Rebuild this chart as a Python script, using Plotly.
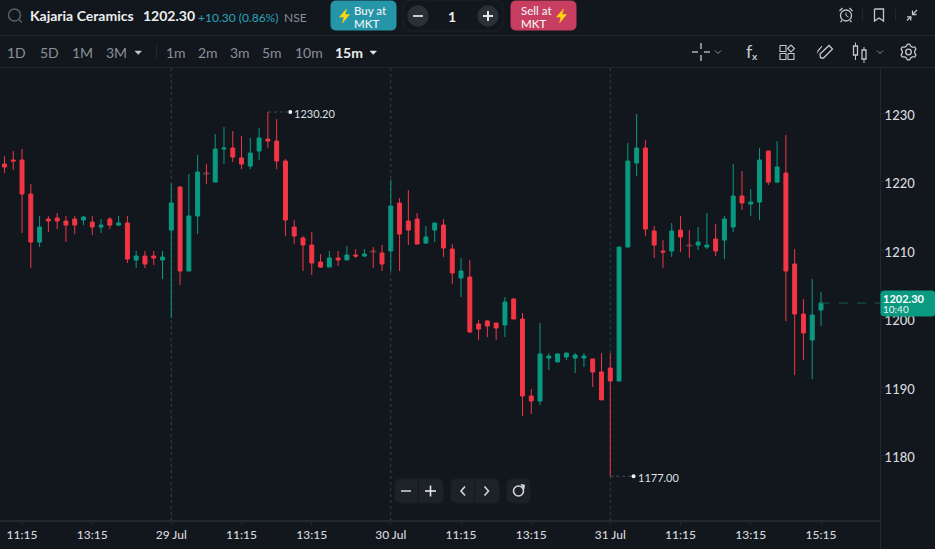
import math
import plotly.graph_objects as go

# Candle data
opens = [1222.60, 1223.19, 1223.19, 1218.22, 1211.21, 1214.57, 1214.72, 1214.28, 1214.57, 1214.43,
         1214.13, 1213.40, 1214.57, 1213.69, 1213.99, 1208.58, 1209.17, 1209.17, 1208.58, 1212.96,
         1219.24, 1206.98, 1215.01, 1221.29, 1219.97, 1224.79, 1224.94, 1223.48, 1222.31, 1224.50,
         1226.25, 1225.96, 1223.04, 1213.40, 1211.80, 1210.78, 1208.29, 1207.56, 1208.88, 1208.59,
         1209.32, 1209.17, 1209.90, 1209.61, 1209.90, 1216.91, 1214.28, 1214.57, 1211.07, 1212.97,
         1213.70, 1210.19, 1205.96, 1206.10, 1199.24, 1199.68, 1199.39, 1199.09, 1202.89, 1199.97,
         1188.73, 1187.99, 1194.27, 1193.69, 1194.42, 1194.27, 1194.27, 1194.13, 1192.24, 1192.82,
         1190.91, 1210.48, 1222.75, 1224.94, 1212.82, 1209.90, 1209.90, 1212.96, 1210.77, 1210.77,
         1210.48, 1211.65, 1211.50, 1213.40, 1217.93, 1216.76, 1217.05, 1224.50, 1219.97, 1221.29,
         1208.00, 1200.70, 1196.90, 1201.28]
highs = [1223.77, 1224.50, 1224.79, 1219.68, 1215.01, 1215.01, 1215.45, 1215.01, 1215.01, 1215.01,
         1215.01, 1214.57, 1214.86, 1215.01, 1215.01, 1209.90, 1209.90, 1209.90, 1209.90, 1219.73,
         1219.39, 1221.14, 1223.92, 1222.60, 1226.98, 1228.01, 1227.42, 1226.69, 1226.40, 1227.86,
         1230.20, 1229.18, 1223.33, 1214.43, 1212.09, 1212.68, 1209.46, 1209.90, 1209.90, 1210.63,
         1210.19, 1210.19, 1210.48, 1210.78, 1220.32, 1217.64, 1218.81, 1215.45, 1213.55, 1213.99,
         1214.57, 1210.92, 1208.88, 1208.59, 1199.82, 1199.82, 1199.39, 1203.18, 1203.04, 1200.85,
         1189.75, 1199.39, 1195.00, 1195.00, 1195.00, 1195.00, 1195.00, 1194.13, 1195.01, 1195.01,
         1210.48, 1225.67, 1229.91, 1226.11, 1213.55, 1211.50, 1213.99, 1215.01, 1212.96, 1213.40,
         1215.45, 1213.84, 1215.01, 1222.60, 1221.58, 1218.95, 1224.94, 1224.50, 1225.96, 1226.84,
         1210.19, 1202.89, 1205.81, 1203.91]
lows = [1221.29, 1221.73, 1212.53, 1207.42, 1210.48, 1212.67, 1213.11, 1211.21, 1212.38, 1213.69,
        1212.23, 1212.53, 1213.11, 1213.55, 1208.15, 1207.42, 1207.42, 1207.85, 1205.81, 1200.11,
        1204.93, 1206.98, 1212.38, 1219.68, 1219.97, 1222.60, 1222.90, 1221.87, 1221.87, 1223.19,
        1224.94, 1221.87, 1212.09, 1210.92, 1206.98, 1206.40, 1207.42, 1207.56, 1207.71, 1208.59,
        1208.88, 1209.02, 1207.42, 1206.98, 1206.88, 1206.98, 1210.78, 1210.92, 1210.92, 1211.22,
        1209.02, 1205.08, 1203.18, 1197.93, 1196.90, 1197.34, 1196.90, 1197.34, 1199.97, 1185.80,
        1186.10, 1187.41, 1192.52, 1193.69, 1193.98, 1192.08, 1192.96, 1190.04, 1188.15, 1177.00,
        1190.91, 1210.48, 1220.85, 1212.09, 1208.88, 1207.42, 1209.02, 1209.75, 1208.88, 1210.04,
        1210.19, 1209.17, 1208.73, 1212.67, 1215.89, 1215.01, 1214.43, 1219.54, 1219.83, 1199.67,
        1191.79, 1193.98, 1191.20, 1198.95]
closes = [1222.17, 1223.04, 1218.22, 1211.21, 1213.40, 1214.28, 1214.28, 1213.69, 1213.69, 1214.86,
          1213.40, 1213.69, 1213.69, 1213.99, 1208.73, 1209.17, 1208.00, 1208.88, 1209.02, 1216.91,
          1206.98, 1215.01, 1221.44, 1221.19, 1224.79, 1224.94, 1223.63, 1222.60, 1224.21, 1226.40,
          1225.96, 1223.04, 1214.43, 1212.09, 1210.78, 1208.15, 1207.56, 1208.88, 1208.59, 1209.32,
          1209.17, 1209.46, 1209.80, 1208.00, 1216.47, 1212.38, 1212.97, 1210.92, 1211.95, 1213.99,
          1210.34, 1206.69, 1206.98, 1198.07, 1198.51, 1198.95, 1198.66, 1202.45, 1199.97, 1188.73,
          1187.99, 1194.86, 1194.57, 1194.86, 1195.00, 1194.71, 1194.56, 1192.23, 1188.15, 1190.92,
          1210.48, 1223.04, 1224.94, 1213.11, 1210.77, 1209.75, 1212.82, 1211.94, 1210.68, 1211.21,
          1210.77, 1209.90, 1214.57, 1217.93, 1216.91, 1217.05, 1223.19, 1219.97, 1222.17, 1206.98,
          1200.70, 1197.92, 1200.55, 1202.30]
x = list(range(len(opens)))

doji_idx = [23, 42, 78]
day_starts = [19, 44, 69]
tick_idx = [2, 10, 19, 27, 35, 44, 52, 60, 69, 77, 85, 93]
tick_text = ["11:15", "13:15", "29 Jul", "11:15", "13:15", "30 Jul", "11:15", "13:15", "31 Jul", "11:15", "13:15", "15:15"]
price_ticks = [1180, 1190, 1200, 1210, 1220, 1230]
last_price = 1202.30
high_mark = (32.55, 1230.20)
low_mark = (71.65, 1177.00)

BG = "#12161d"
RED = "#f23645"
GREEN = "#0a9981"
GREY = "#8b9097"
LINE = "#23282f"
ICON = "#c4c7cb"
W, H = 935, 549
shapes = []
notes = []


def px(v):
    return v / W


def py(v):
    return 1 - v / H


def path(points, close=False):
    s = "M" + " L".join(f"{px(a):.5f},{py(b):.5f}" for a, b in points)
    return s + (" Z" if close else "")


def poly(points, color=ICON, fill=None, width=1.3):
    shapes.append(dict(type="path", xref="paper", yref="paper", path=path(points, fill is not None),
                       line=dict(color=color, width=width), fillcolor=fill))


def rrect(x0, y0, x1, y1, r, fill, color=None):
    s = (f"M{px(x0 + r):.5f},{py(y0):.5f} L{px(x1 - r):.5f},{py(y0):.5f} Q{px(x1):.5f},{py(y0):.5f} {px(x1):.5f},{py(y0 + r):.5f} "
         f"L{px(x1):.5f},{py(y1 - r):.5f} Q{px(x1):.5f},{py(y1):.5f} {px(x1 - r):.5f},{py(y1):.5f} "
         f"L{px(x0 + r):.5f},{py(y1):.5f} Q{px(x0):.5f},{py(y1):.5f} {px(x0):.5f},{py(y1 - r):.5f} "
         f"L{px(x0):.5f},{py(y0 + r):.5f} Q{px(x0):.5f},{py(y0):.5f} {px(x0 + r):.5f},{py(y0):.5f} Z")
    shapes.append(dict(type="path", xref="paper", yref="paper", path=s, fillcolor=fill,
                       line=dict(color=color or fill, width=1)))


def circle(cx, cy, r, fill=None, color=ICON, width=1.3):
    shapes.append(dict(type="circle", xref="paper", yref="paper", x0=px(cx - r), x1=px(cx + r),
                       y0=py(cy + r), y1=py(cy - r), fillcolor=fill,
                       line=dict(color=color, width=width)))


def txt(xp, yp, s, size=14, color=GREY, weight=400, anchor="left"):
    notes.append(dict(xref="paper", yref="paper", x=px(xp), y=py(yp), text=s, showarrow=False,
                      xanchor=anchor, yanchor="middle", borderpad=0, xshift=-1 if anchor == "left" else 0,
                      font=dict(family="Lato", size=size, color=color, weight=weight)))


def bolt(cx, cy):
    poly([(cx + 2, cy - 7), (cx - 5, cy + 1), (cx - 0.5, cy + 1), (cx - 2, cy + 7), (cx + 5, cy - 1.5), (cx + 0.5, cy - 1.5)],
         color="#ffd60a", fill="#ffd60a", width=0.5)


# header rows
poly([(0, 35.5), (W, 35.5)], color=LINE, width=1)
poly([(0, 67.5), (W, 67.5)], color=LINE, width=1)
circle(14.5, 15, 6, color="#5a5f66", width=1.5)
poly([(19, 19.5), (22, 22.5)], color="#5a5f66", width=1.5)
txt(30, 16, "Kajaria Ceramics", 14, "#eceded", 700)
txt(143, 16, "1202.30", 14, "#eceded", 700)
txt(198, 17, "+10.30 (0.86%)", 12, "#2aa5b8")
txt(284, 17, "NSE", 12, GREY)

rrect(331, 1, 396, 30, 5, "#2596a8")
bolt(344.5, 16)
txt(354, 10.5, "Buy at", 11.5, "#f2f4f5", 500)
txt(354, 23, "MKT", 11.5, "#f2f4f5", 500)
rrect(403, 0, 503, 31, 9, BG, "#1e2329")
circle(418, 16, 10, fill="#2b3037", color="#2b3037")
poly([(413, 16), (423, 16)], color="#c9ccd0", width=2)
txt(452, 16.5, "1", 14, "#eceded", 700, "center")
circle(488, 16, 10, fill="#2b3037", color="#2b3037")
poly([(483, 16), (493, 16)], color="#e3e5e7", width=2)
poly([(488, 11), (488, 21)], color="#e3e5e7", width=2)
rrect(511, 1, 576, 30, 5, "#c73e60")
txt(521, 10.5, "Sell at", 11.5, "#f2f4f5", 500)
txt(521, 23, "MKT", 11.5, "#f2f4f5", 500)
bolt(561.5, 16)

# top right icons
circle(846, 15.5, 5.5)
poly([(846, 12.5), (846, 15.5), (848.5, 17)], width=1)
poly([(839.5, 11), (842.5, 8)])
poly([(852.5, 11), (849.5, 8)])
poly([(842, 20.5), (840.5, 22)])
poly([(850, 20.5), (851.5, 22)])
poly([(862.5, 9), (862.5, 21)], color=LINE, width=1)
poly([(874.5, 9), (883.5, 9), (883.5, 21), (879, 18), (874.5, 21), (874.5, 9)])
poly([(895.5, 9), (895.5, 21)], color=LINE, width=1)
poly([(917, 10), (912.5, 14.5)])
poly([(912.5, 10.5), (912.5, 14.5), (916.5, 14.5)])
poly([(907, 20.5), (910.5, 17)])
poly([(907, 16.8), (910.8, 16.8), (910.8, 20.5)])

# interval row
for xp, s in [(7, "1D"), (40, "5D"), (72, "1M"), (106, "3M"), (166, "1m"), (198, "2m"), (230, "3m"), (262, "5m"), (295, "10m")]:
    txt(xp, 52.5, s, 14, GREY)
txt(335, 52.5, "15m", 14, "#eceded", 700)
poly([(135, 51), (141.5, 51), (138.2, 54.5)], color="#c4c7cb", fill="#c4c7cb", width=0.5)
poly([(370, 51), (376.5, 51), (373.2, 54.5)], color="#e3e5e7", fill="#e3e5e7", width=0.5)
poly([(156.5, 44), (156.5, 59)], color=LINE, width=1)

# tool icons
poly([(692, 52), (698, 52)])
poly([(704, 52), (710, 52)])
poly([(701, 43), (701, 49)])
poly([(701, 55), (701, 61)])
poly([(715, 50.5), (718, 53.5), (721, 50.5)], color=GREY, width=1)
txt(749, 51.5, "f", 18, ICON, 400, "center")
txt(754.5, 56, "x", 10, ICON, 700, "center")
for gx, gy in [(780, 53.5), (788, 53.5), (780, 45.5)]:
    poly([(gx, gy), (gx + 6, gy), (gx + 6, gy + 6), (gx, gy + 6), (gx, gy)], width=1.1)
poly([(791, 45), (794.5, 48.5), (791, 52), (787.5, 48.5), (791, 45)], width=1.1)
poly([(820.5, 58), (820, 54), (829, 45.5), (832.5, 49), (823.5, 58), (820.5, 58)])
poly([(817, 53), (822, 46), (817.5, 51)], width=1)
poly([(855.5, 42.5), (855.5, 60)], width=1)
poly([(853.5, 46), (857.5, 46), (857.5, 55), (853.5, 55), (853.5, 46)], color=ICON, fill=BG)
poly([(864, 47), (864, 63)], width=1)
poly([(862, 50), (866, 50), (866, 59), (862, 59), (862, 50)], color=ICON, fill=BG)
poly([(877, 50.5), (880, 53.5), (883, 50.5)], color=GREY, width=1)
gear = []
for k in range(25):
    r = 8 if k % 4 in (0, 1) else 6.2
    a = math.radians(k * 15 - 97.5)
    gear.append((908.5 + r * math.cos(a), 52 + r * math.sin(a)))
poly(gear)
circle(908.5, 52, 2.8)

# chart overlays
shapes.append(dict(type="line", xref="paper", yref="paper", x0=px(880.5), x1=px(880.5), y0=py(68), y1=0,
                   line=dict(color=LINE, width=1)))
for d in day_starts:
    shapes.append(dict(type="line", xref="x", yref="paper", x0=d, x1=d, y0=py(68), y1=py(520),
                       line=dict(color="#3b4047", width=1, dash="dot"), layer="below"))
shapes.append(dict(type="line", xref="x", yref="y", x0=x[-1], x1=99.72, y0=last_price, y1=last_price,
                   line=dict(color="#1d5a50", width=1, dash="dash")))
shapes.append(dict(type="line", xref="x", yref="y", x0=30, x1=high_mark[0], y0=high_mark[1], y1=high_mark[1],
                   line=dict(color="#4a4f56", width=1, dash="dot")))
shapes.append(dict(type="line", xref="x", yref="y", x0=69, x1=low_mark[0], y0=low_mark[1], y1=low_mark[1],
                   line=dict(color="#4a4f56", width=1, dash="dot")))

# bottom buttons
rrect(395, 479, 443, 503, 6, "#1d2128")
rrect(451, 479, 499, 503, 6, "#1d2128")
rrect(507, 479, 530, 503, 6, "#1d2128")
poly([(418.5, 480), (418.5, 502)], color="#15191f", width=1)
poly([(474.5, 480), (474.5, 502)], color="#15191f", width=1)
poly([(401, 491), (411, 491)], color="#c9ccd0", width=1.6)
poly([(425, 491), (436, 491)], color="#e3e5e7", width=1.6)
poly([(430.5, 485.5), (430.5, 496.5)], color="#e3e5e7", width=1.6)
poly([(465, 486.5), (461, 491), (465, 495.5)], color="#d5d7da", width=1.6)
poly([(484.5, 486.5), (488.5, 491), (484.5, 495.5)], color="#d5d7da", width=1.6)
circle(518.5, 491, 5, color="#d5d7da", width=1.6)
poly([(521, 484.5), (524.5, 485), (524, 489), (521, 484.5)], color="#d5d7da", fill="#d5d7da", width=0.8)

# last price tag
rrect(881, 291, 935, 316, 3, "#0a9981")
txt(883, 298.5, "1202.30", 11, "#ffffff", 700)
txt(883, 309, "10:40", 10, "#e8f5f2")

# high and low labels
for mark, s, dy in [(high_mark, "1230.20", -1), (low_mark, "1177.00", -1)]:
    notes.append(dict(xref="x", yref="y", x=mark[0], y=mark[1], text=s, showarrow=False, xanchor="left",
                      yanchor="middle", xshift=3, yshift=dy, borderpad=0,
                      font=dict(family="Lato", size=11, color="#dfe1e3")))

fig = go.Figure()
fig.add_trace(go.Candlestick(
    x=x, open=opens, high=highs, low=lows, close=closes, whiskerwidth=0,
    increasing=dict(line=dict(color=GREEN, width=1), fillcolor=GREEN),
    decreasing=dict(line=dict(color=RED, width=1), fillcolor=RED),
))
fig.add_trace(go.Scatter(
    x=doji_idx, y=[closes[i] for i in doji_idx], mode="markers",
    marker=dict(symbol="line-ew", size=5, line=dict(color="#41464d", width=1)),
))
fig.add_trace(go.Scatter(
    x=[high_mark[0], low_mark[0]], y=[high_mark[1], low_mark[1]], mode="markers",
    marker=dict(color="#f2f3f4", size=4),
))

fig.update_layout(
    width=W, height=H, margin=dict(l=0, r=0, t=0, b=0), paper_bgcolor=BG, plot_bgcolor=BG,
    showlegend=False, boxgap=0.55, boxgroupgap=0, shapes=shapes, annotations=notes,
    xaxis=dict(domain=[0, 880 / W], range=[-0.51, 99.72], rangeslider=dict(visible=False), showgrid=False,
               zeroline=False, tickmode="array", tickvals=tick_idx, ticktext=tick_text, ticks="outside",
               ticklen=3, tickcolor=LINE, showline=True, linecolor=LINE, linewidth=2,
               tickfont=dict(family="Lato", size=12, color="#d8dadd", weight=500)),
    yaxis=dict(domain=[(H - 520) / H, (H - 68) / H], range=[1170.62, 1236.63], side="right", showgrid=False,
               zeroline=False, tickmode="array", tickvals=price_ticks, ticks="outside", ticklen=4,
               tickcolor=LINE, ticklabelshift=2, ticklabelstandoff=-3, tickformat="d",
               tickfont=dict(family="Lato", size=13, color="#d8dadd", weight=500)),
)

# plotly's page keeps the browser's default body margin
fig.write_html("out.html", config=dict(displayModeBar=False),
               post_script="document.body.style.margin='0';document.body.style.overflow='hidden';")
